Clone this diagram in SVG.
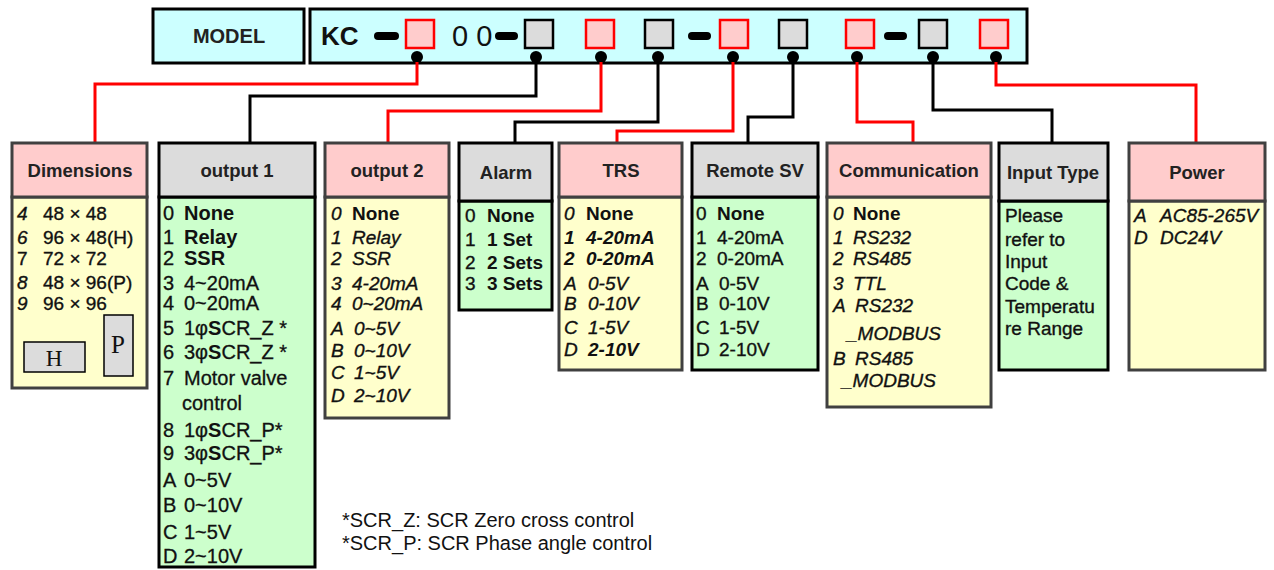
<svg xmlns="http://www.w3.org/2000/svg" width="1274" height="570" viewBox="0 0 1274 570">
<style>
.bg{fill:#ffffff}
.top{fill:#ccffff;stroke:#000;stroke-width:3}
.sqr{fill:#ffcccc;stroke:#ff0000;stroke-width:2.5}
.sqg{fill:#dcdcdc;stroke:#000;stroke-width:2.5}
.dash{stroke:#000;stroke-width:8;stroke-linecap:round}
.dot{fill:#000}
.hp{fill:#ffcccc;stroke:#404040;stroke-width:3}
.hg{fill:#dcdcdc;stroke:#000;stroke-width:3}
.by{fill:#ffffcc;stroke:#404040;stroke-width:3}
.bgr{fill:#ccffcc;stroke:#000;stroke-width:3}
.cr{fill:none;stroke:#ff0000;stroke-width:3}
.ck{fill:none;stroke:#000;stroke-width:3}
text{font-family:"Liberation Sans",Arial,sans-serif;fill:#111}
.hd{font-size:18.5px;font-weight:bold;fill:#222;text-anchor:middle}
.t{font-size:19px;stroke:#111;stroke-width:0.35}
.t1{font-size:20px;stroke:#111;stroke-width:0.3}
.it{font-style:italic}
.b{font-weight:bold;stroke-width:0}
.fn{font-size:20px;fill:#111}
</style>
<rect class="bg" x="0" y="0" width="1274" height="570"/>

<g id="model">
<rect class="top" x="153" y="9" width="151" height="54"/>
<text x="229" y="43" style="font-size:20px;font-weight:bold;fill:#222;text-anchor:middle">MODEL</text>
</g>

<g id="code-bar">
<rect class="top" x="310" y="9" width="717" height="54"/>
<text x="321" y="45" style="font-size:26px;font-weight:bold">KC</text>
<line class="dash" x1="378" y1="36" x2="395" y2="36"/>
<text x="452" y="46" style="font-size:29px">0 0</text>
<line class="dash" x1="499" y1="36" x2="514" y2="36"/>
<line class="dash" x1="692" y1="36" x2="707" y2="36"/>
<line class="dash" x1="888" y1="36" x2="903" y2="36"/>
<rect class="sqr" x="406" y="20" width="28" height="28"/>
<rect class="sqg" x="525" y="20" width="28" height="28"/>
<rect class="sqr" x="586" y="20" width="28" height="28"/>
<rect class="sqg" x="645" y="20" width="28" height="28"/>
<rect class="sqr" x="720" y="20" width="28" height="28"/>
<rect class="sqg" x="779" y="20" width="28" height="28"/>
<rect class="sqr" x="846" y="20" width="28" height="28"/>
<rect class="sqg" x="919" y="20" width="28" height="28"/>
<rect class="sqr" x="980" y="20" width="28" height="28"/>
<circle class="dot" cx="417" cy="57" r="6"/>
<circle class="dot" cx="536" cy="57" r="6"/>
<circle class="dot" cx="601" cy="57" r="6"/>
<circle class="dot" cx="658" cy="57" r="6"/>
<circle class="dot" cx="733" cy="57" r="6"/>
<circle class="dot" cx="793" cy="57" r="6"/>
<circle class="dot" cx="857" cy="57" r="6"/>
<circle class="dot" cx="933" cy="57" r="6"/>
<circle class="dot" cx="996" cy="57" r="6"/>
</g>

<g id="connectors">
<polyline class="cr" points="417,62 417,84 95,84 95,143"/>
<polyline class="ck" points="536,62 536,96 250,96 250,143"/>
<polyline class="cr" points="601,62 601,111 388,111 388,143"/>
<polyline class="ck" points="658,62 658,122 515,122 515,143"/>
<polyline class="cr" points="733,62 733,131 617,131 617,143"/>
<polyline class="ck" points="793,62 793,117 748,117 748,143"/>
<polyline class="cr" points="857,62 857,122 913,122 913,143"/>
<polyline class="ck" points="933,62 933,110 1052,110 1052,143"/>
<polyline class="cr" points="996,62 996,85 1196,85 1196,143"/>
</g>

<g id="dimensions">
<rect class="by" x="12" y="197" width="135" height="191"/>
<rect class="hp" x="12" y="143" width="135" height="54"/>
<text class="hd" x="80" y="177">Dimensions</text>
<text class="t it" x="17" y="220">4</text><text class="t" x="43" y="220">48 × 48</text>
<text class="t it" x="17" y="244">6</text><text class="t" x="43" y="244">96 × 48(H)</text>
<text class="t" x="17" y="265">7</text><text class="t" x="43" y="265">72 × 72</text>
<text class="t it" x="17" y="289">8</text><text class="t" x="43" y="289">48 × 96(P)</text>
<text class="t it" x="17" y="310">9</text><text class="t" x="43" y="310">96 × 96</text>
<rect x="24" y="342" width="61" height="30" fill="#dcdcdc" stroke="#000" stroke-width="1.5"/>
<text x="54" y="366" style="font-family:'Liberation Serif',serif;font-size:23px;text-anchor:middle">H</text>
<rect x="104" y="315" width="29" height="61" fill="#dcdcdc" stroke="#000" stroke-width="1.5"/>
<text x="118" y="353" style="font-family:'Liberation Serif',serif;font-size:25px;text-anchor:middle">P</text>
</g>

<g id="output1">
<rect class="bgr" x="159" y="197" width="156" height="370"/>
<rect class="hg" x="159" y="143" width="156" height="54"/>
<text class="hd" x="237" y="177">output 1</text>
<text class="t1" x="163" y="220">0</text><text class="t1 b" x="184" y="220">None</text>
<text class="t1" x="163" y="244">1</text><text class="t1 b" x="184" y="244">Relay</text>
<text class="t1" x="163" y="265">2</text><text class="t1 b" x="184" y="265">SSR</text>
<text class="t1" x="163" y="290">3</text><text class="t1" x="184" y="290">4~20mA</text>
<text class="t1" x="163" y="310">4</text><text class="t1" x="184" y="310">0~20mA</text>
<text class="t1" x="163" y="335">5</text><text class="t1" x="184" y="335">1φ<tspan class="b">S</tspan>CR_Z *</text>
<text class="t1" x="163" y="359">6</text><text class="t1" x="184" y="359">3φ<tspan class="b">S</tspan>CR_Z *</text>
<text class="t1" x="163" y="385">7</text><text class="t1" x="184" y="385">Motor valve</text>
<text class="t1" x="182" y="410">control</text>
<text class="t1" x="163" y="437">8</text><text class="t1" x="184" y="437">1φ<tspan class="b">S</tspan>CR_P*</text>
<text class="t1" x="163" y="460">9</text><text class="t1" x="184" y="460">3φ<tspan class="b">S</tspan>CR_P*</text>
<text class="t1" x="163" y="487">A</text><text class="t1" x="184" y="487">0~5V</text>
<text class="t1" x="163" y="512">B</text><text class="t1" x="184" y="512">0~10V</text>
<text class="t1" x="163" y="539">C</text><text class="t1" x="184" y="539">1~5V</text>
<text class="t1" x="163" y="563">D</text><text class="t1" x="184" y="563">2~10V</text>
</g>

<g id="output2">
<rect class="by" x="325" y="197" width="124" height="221"/>
<rect class="hp" x="325" y="143" width="124" height="54"/>
<text class="hd" x="387" y="177">output 2</text>
<text class="t it" x="331" y="220">0</text><text class="t b" x="352" y="220">None</text>
<text class="t it" x="331" y="244">1</text><text class="t it" x="352" y="244">Relay</text>
<text class="t it" x="331" y="265">2</text><text class="t it" x="352" y="265">SSR</text>
<text class="t it" x="331" y="290">3</text><text class="t it" x="352" y="290">4-20mA</text>
<text class="t it" x="331" y="310">4</text><text class="t it" x="352" y="310">0~20mA</text>
<text class="t it" x="331" y="335">A</text><text class="t it" x="354" y="335">0~5V</text>
<text class="t it" x="331" y="357">B</text><text class="t it" x="354" y="357">0~10V</text>
<text class="t it" x="331" y="379">C</text><text class="t it" x="354" y="379">1~5V</text>
<text class="t it" x="331" y="402">D</text><text class="t it" x="354" y="402">2~10V</text>
</g>

<g id="alarm">
<rect class="bgr" x="459" y="201" width="93" height="109"/>
<rect class="hg" x="459" y="143" width="93" height="58"/>
<text class="hd" x="506" y="179">Alarm</text>
<text class="t" x="465" y="222">0</text><text class="t b" x="487" y="222">None</text>
<text class="t" x="465" y="246">1</text><text class="t b" x="487" y="246">1 Set</text>
<text class="t" x="465" y="269">2</text><text class="t b" x="487" y="269">2 Sets</text>
<text class="t" x="465" y="290">3</text><text class="t b" x="487" y="290">3 Sets</text>
</g>

<g id="trs">
<rect class="by" x="559" y="197" width="123" height="173"/>
<rect class="hp" x="559" y="143" width="123" height="54"/>
<text class="hd" x="621" y="177">TRS</text>
<text class="t it" x="564" y="220">0</text><text class="t b" x="586" y="220">None</text>
<text class="t it b" x="564" y="244">1</text><text class="t it b" x="586" y="244">4-20mA</text>
<text class="t it b" x="564" y="265">2</text><text class="t it b" x="586" y="265">0-20mA</text>
<text class="t it" x="564" y="290">A</text><text class="t it" x="588" y="290">0-5V</text>
<text class="t it" x="564" y="310">B</text><text class="t it" x="588" y="310">0-10V</text>
<text class="t it" x="564" y="334">C</text><text class="t it" x="588" y="334">1-5V</text>
<text class="t it" x="564" y="356">D</text><text class="t it b" x="588" y="356">2-10V</text>
</g>

<g id="remote-sv">
<rect class="bgr" x="692" y="197" width="126" height="173"/>
<rect class="hg" x="692" y="143" width="126" height="54"/>
<text class="hd" x="755" y="177">Remote SV</text>
<text class="t" x="696" y="220">0</text><text class="t b" x="717" y="220">None</text>
<text class="t" x="696" y="244">1</text><text class="t" x="717" y="244">4-20mA</text>
<text class="t" x="696" y="265">2</text><text class="t" x="717" y="265">0-20mA</text>
<text class="t" x="696" y="290">A</text><text class="t" x="719" y="290">0-5V</text>
<text class="t" x="696" y="310">B</text><text class="t" x="719" y="310">0-10V</text>
<text class="t" x="696" y="334">C</text><text class="t" x="719" y="334">1-5V</text>
<text class="t" x="696" y="356">D</text><text class="t" x="719" y="356">2-10V</text>
</g>

<g id="communication">
<rect class="by" x="827" y="197" width="164" height="210"/>
<rect class="hp" x="827" y="143" width="164" height="54"/>
<text class="hd" x="909" y="177">Communication</text>
<text class="t it" x="833" y="220">0</text><text class="t b" x="853" y="220">None</text>
<text class="t it" x="833" y="244">1</text><text class="t it" x="853" y="244">RS232</text>
<text class="t it" x="833" y="265">2</text><text class="t it" x="853" y="265">RS485</text>
<text class="t it" x="833" y="290">3</text><text class="t it" x="853" y="290">TTL</text>
<text class="t it" x="833" y="312">A</text><text class="t it" x="855" y="312">RS232</text>
<text class="t it" x="847" y="340">_MODBUS</text>
<text class="t it" x="833" y="365">B</text><text class="t it" x="855" y="365">RS485</text>
<text class="t it" x="842" y="387">_MODBUS</text>
</g>

<g id="input-type">
<rect class="bgr" x="999" y="201" width="109" height="169"/>
<rect class="hg" x="999" y="143" width="109" height="58"/>
<text class="hd" x="1053" y="179">Input Type</text>
<text class="t" x="1005" y="222">Please</text>
<text class="t" x="1005" y="246">refer to</text>
<text class="t" x="1005" y="268">Input</text>
<text class="t" x="1005" y="290">Code &amp;</text>
<text class="t" x="1005" y="313">Temperatu</text>
<text class="t" x="1005" y="335">re Range</text>
</g>

<g id="power">
<rect class="by" x="1129" y="201" width="136" height="169"/>
<rect class="hp" x="1129" y="143" width="136" height="58"/>
<text class="hd" x="1197" y="179">Power</text>
<text class="t it" x="1134" y="222">A</text><text class="t it" x="1160" y="222">AC85-265V</text>
<text class="t it" x="1134" y="244">D</text><text class="t it" x="1160" y="244">DC24V</text>
</g>

<g id="footnote">
<text class="fn" x="342" y="527">*SCR_Z: SCR Zero cross control</text>
<text class="fn" x="342" y="550">*SCR_P: SCR Phase angle control</text>
</g>
</svg>
